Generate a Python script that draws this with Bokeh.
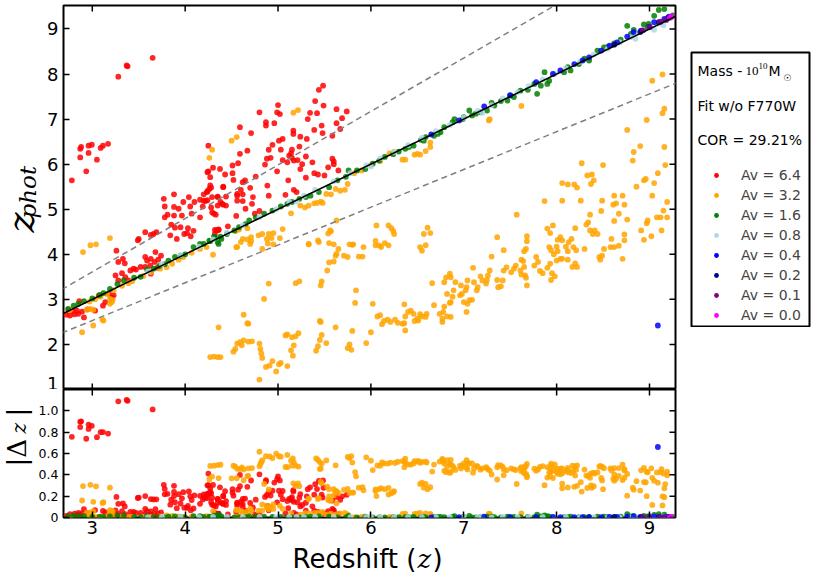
import numpy as np
from bokeh.plotting import figure
from bokeh.models import Range1d, FixedTicker, Label, Slope, Legend, LegendItem, ColumnDataSource
from bokeh.layouts import column, row
from bokeh.embed import file_html
from bokeh.resources import INLINE

# ---------------- data (z_spec, z_phot) ----------------
AV_LABELS = ["6.4", "3.2", "1.6", "0.8", "0.4", "0.2", "0.1", "0.0"]
COLORS = ["#ff0000", "#ffa500", "#008000", "#add8e6", "#0000ff", "#00008b", "#800080", "#ff00ff"]

X_LIM = (2.69, 9.28)
YTOP_LIM = (1.0, 9.52)
YBOT_LIM = (0.0, 1.2)
XTICKS = [3, 4, 5, 6, 7, 8, 9]
YTOP_TICKS = [1, 2, 3, 4, 5, 6, 7, 8, 9]
YBOT_TICKS = [0, 0.2, 0.4, 0.6, 0.8, 1.0]
ONE_TO_ONE = (1.0, 0.0)
DASH_HI = (1.187, 0.047)
DASH_LO = (0.838, 0.016)

AV64 = [
    (2.78, 5.64), (2.87, 6.34), (2.88, 6.38), (2.87, 6.15), (2.935, 5.84), (2.96, 6.41), (2.96, 6.25),
    (2.995, 6.43), (3.05, 6.10), (3.09, 6.36), (3.115, 6.41), (3.17, 6.45), (3.28, 7.94), (3.37, 8.19),
    (3.38, 8.17), (3.65, 8.36),
    (2.745, 2.77), (2.76, 2.64), (2.79, 2.74), (2.81, 2.67), (2.835, 2.75), (2.85, 2.68), (2.89, 2.73),
    (2.91, 2.60), (2.86, 2.96), (3.03, 2.75), (3.115, 2.86), (3.14, 2.94), (3.21, 3.04), (3.23, 3.09),
    (2.72, 2.66), (2.95, 2.78), (3.07, 3.08), (3.18, 3.12),
    (3.26, 4.08), (3.28, 3.83), (3.33, 3.90), (3.35, 3.80), (3.25, 3.53), (3.28, 3.42), (3.32, 3.58),
    (3.355, 3.49), (3.39, 3.42), (3.41, 3.64), (3.445, 3.68), (3.47, 3.66), (3.52, 3.72), (3.49, 4.31),
    (3.50, 4.34), (3.57, 4.49), (3.63, 4.43), (3.66, 4.45), (3.69, 4.49), (3.57, 3.94), (3.59, 3.86),
    (3.63, 3.90), (3.68, 4.05), (3.67, 3.83), (3.71, 3.88), (3.74, 3.97), (3.57, 3.72), (3.625, 3.75),
    (3.70, 3.70), (3.63, 3.57),
    (3.77, 5.23), (3.78, 5.06), (3.81, 4.88), (3.78, 4.82), (3.88, 5.33), (3.88, 5.05), (3.88, 4.86),
    (3.93, 5.01), (3.965, 4.86), (3.98, 5.16), (4.04, 5.27), (4.055, 5.06), (4.07, 4.90), (4.10, 5.16),
    (4.16, 5.21), (4.16, 4.82), (4.19, 5.06), (4.22, 5.18), (4.235, 5.38), (4.26, 5.45), (4.27, 5.53),
    (4.27, 5.71), (4.30, 5.92), (4.24, 5.82), (4.25, 6.41), (4.28, 5.04), (4.31, 4.90), (4.35, 5.27),
    (4.38, 5.16), (4.41, 5.49), (3.84, 4.42), (3.85, 4.66), (3.91, 4.34), (3.89, 4.59), (3.95, 4.60),
    (3.99, 4.45), (4.03, 4.58), (4.06, 4.40), (4.02, 4.47), (4.09, 4.52), (4.34, 4.53), (4.36, 4.55),
    (5.485, 7.74), (5.44, 7.65), (5.40, 7.40), (5.49, 7.30), (5.00, 7.31), (4.80, 7.15), (4.99, 7.15),
    (5.02, 7.11), (5.345, 7.14), (5.42, 7.13), (5.63, 7.22), (5.74, 7.17), (5.69, 7.02), (5.63, 6.91),
    (5.32, 7.00), (5.47, 6.855), (5.39, 6.76), (5.48, 6.69), (5.585, 6.63), (5.67, 6.78), (4.87, 6.93),
    (4.87, 6.855), (4.96, 6.91), (4.59, 6.82), (4.71, 6.69), (5.165, 6.745), (5.165, 6.67), (5.24, 6.61),
    (5.31, 6.56), (5.05, 6.56), (5.01, 6.52), (4.94, 6.43), (4.90, 6.32), (5.03, 6.32), (5.15, 6.32),
    (5.23, 6.39), (4.67, 6.30), (4.59, 6.23), (4.57, 6.02), (4.51, 5.97), (4.375, 5.895), (4.25, 5.84),
    (4.43, 5.77), (4.51, 5.80), (4.52, 5.65), (4.62, 5.60), (4.645, 5.64), (4.76, 5.725), (4.86, 5.99),
    (4.88, 6.12), (4.92, 6.14), (4.99, 5.84), (5.05, 6.09), (5.10, 6.04), (5.12, 6.19), (5.14, 6.24),
    (5.15, 6.14), (5.17, 6.08), (5.21, 6.09), (5.24, 5.89), (5.26, 6.00), (5.30, 6.17), (5.37, 6.04),
    (5.39, 5.80), (5.43, 5.77), (5.54, 5.93), (5.585, 6.12), (5.60, 6.06), (5.11, 5.64), (4.885, 5.525),
    (5.17, 5.43), (4.70, 5.475), (4.60, 5.43), (4.56, 5.34), (4.41, 5.50), (4.28, 5.48), (4.24, 5.40),
    (4.20, 5.33), (4.20, 5.19), (4.24, 5.20), (4.29, 5.27), (4.35, 5.28), (4.44, 5.28), (4.56, 5.30),
    (4.62, 5.33), (4.56, 5.19), (4.62, 5.18), (4.73, 5.27), (4.72, 5.12), (4.40, 5.12), (4.41, 5.10),
    (4.35, 5.08), (4.44, 5.08), (4.65, 5.01), (4.29, 4.93), (4.33, 4.88), (4.80, 4.96), (4.32, 4.54),
    (4.36, 4.54), (4.32, 4.45),
    (4.55, 4.85), (4.90, 5.30), (5.30, 5.70), (5.50, 5.75), (5.60, 6.00), (5.08, 5.32), (4.75, 4.90),
    (5.65, 5.86), (5.20, 5.38), (4.46, 4.62),
]

AV32 = [
    (2.90, 4.05), (2.98, 4.20), (3.04, 4.22), (3.19, 4.36), (4.29, 6.32), (4.26, 6.14), (4.50, 6.52),
    (4.555, 6.60), (5.165, 7.14), (5.215, 7.20),
    (2.89, 2.27), (3.01, 2.42), (3.12, 2.53), (3.11, 2.55),
    (2.76, 2.77), (2.94, 2.77), (2.98, 2.79), (3.01, 2.77), (3.19, 3.01), (3.22, 2.99), (3.19, 2.90),
    (3.21, 2.94),
    (2.97, 2.95), (3.03, 3.00), (3.09, 3.06), (3.16, 3.12), (3.23, 3.20), (3.32, 3.30), (3.39, 3.36),
    (3.43, 3.40), (3.55, 3.52), (3.63, 3.60), (3.73, 3.68), (3.80, 3.71), (3.86, 3.79), (3.93, 3.88),
    (3.98, 3.94), (4.07, 4.03), (4.16, 4.12), (4.23, 4.16), (4.30, 3.99),
    (4.544, 4.516), (4.58, 4.55), (4.67, 4.58), (4.79, 4.42), (4.83, 4.45), (4.90, 4.45), (4.95, 4.47),
    (5.05, 4.56), (4.60, 4.27), (4.55, 4.16), (4.71, 4.29), (4.70, 4.23), (4.83, 4.12), (4.89, 4.24),
    (5.02, 4.36), (5.14, 4.91), (5.24, 5.08), (5.29, 5.04), (5.33, 5.08), (5.39, 5.13), (5.42, 5.14),
    (5.46, 5.17), (5.48, 5.14), (5.52, 5.34), (5.57, 5.33), (5.62, 5.45), (5.67, 5.41), (5.72, 5.43),
    (5.75, 5.56), (5.82, 5.80), (5.90, 5.86), (6.00, 5.98), (6.10, 6.07), (6.20, 6.24), (6.25, 6.28),
    (5.33, 4.22), (5.44, 4.27), (5.55, 4.25), (5.63, 4.75), (5.57, 4.51), (5.77, 4.22), (5.81, 4.22),
    (6.05, 4.20), (6.09, 4.20), (6.06, 4.64), (5.91, 3.95), (5.63, 4.01), (5.60, 3.84), (5.53, 3.64),
    (5.47, 3.40), (5.46, 3.31), (5.23, 3.40), (5.19, 3.36), (4.90, 3.35), (4.85, 3.01), (4.63, 2.66),
    (4.68, 2.46), (4.36, 2.38), (5.84, 3.20), (5.83, 2.92), (6.02, 2.90), (5.45, 2.52),
    (4.27, 1.72), (4.31, 1.73), (4.35, 1.72), (4.38, 1.72), (4.52, 1.84), (4.54, 1.90), (4.56, 2.02),
    (4.59, 2.05), (4.61, 1.98), (4.63, 2.09), (4.68, 2.06), (4.72, 2.07), (4.67, 2.47), (4.80, 2.02),
    (4.81, 1.90), (4.82, 1.80), (4.83, 1.70), (4.80, 1.22), (4.87, 1.50), (4.91, 1.53), (4.94, 1.63),
    (4.98, 1.40), (5.01, 1.56), (5.03, 1.59), (5.10, 1.52), (5.08, 2.20), (5.10, 2.22), (5.15, 2.16),
    (5.17, 1.98), (5.19, 2.18), (5.22, 2.25), (5.14, 1.87), (5.16, 1.75), (5.41, 1.86), (5.43, 1.96),
    (5.45, 2.10), (5.47, 2.21), (5.46, 2.50), (5.52, 2.03), (5.62, 2.38), (5.75, 1.92), (5.77, 2.00),
    (5.79, 1.88), (5.80, 2.30), (5.95, 2.03), (6.00, 2.27), (6.07, 2.62), (6.10, 2.65), (6.12, 2.45),
    (6.14, 2.52), (6.18, 2.55), (6.21, 2.50), (6.26, 2.55), (6.29, 2.48),
    (4.56, 4.16), (4.62, 4.34), (4.67, 4.33), (4.71, 4.38), (4.88, 4.34), (4.93, 4.36), (4.95, 4.22),
    (5.33, 4.23), (5.43, 4.31), (5.54, 4.46), (5.56, 4.53), (5.60, 4.22), (5.65, 4.12), (5.80, 4.21),
    (5.92, 4.16), (6.05, 4.30), (6.11, 4.16), (6.15, 4.25), (6.19, 4.20), (6.25, 4.45), (6.19, 4.64),
    (6.22, 4.58), (6.24, 4.52), (5.55, 3.82), (5.62, 3.97), (5.71, 3.97), (5.75, 3.94), (5.87, 3.95),
    (7.28, 7.00), (7.27, 6.97), (7.62, 7.29), (6.47, 6.21), (6.50, 6.23), (6.53, 6.21), (6.59, 6.29),
    (6.64, 6.38), (6.64, 6.48), (6.37, 6.10), (6.34, 6.10),
    (9.03, 7.85), (9.14, 7.99), (9.14, 7.13), (9.16, 7.23), (8.97, 6.98), (8.76, 6.76), (8.90, 6.40),
    (8.83, 6.27), (8.82, 6.08), (9.16, 6.38), (9.17, 5.98), (8.50, 5.98), (8.27, 6.02), (9.09, 5.80),
    (9.05, 5.58), (8.96, 5.67), (8.94, 5.64), (8.86, 5.50), (9.03, 5.30), (9.19, 5.16), (9.15, 4.97),
    (9.19, 4.82), (9.08, 4.82), (9.12, 4.82), (8.98, 4.75), (8.97, 4.69), (8.91, 4.53), (9.13, 4.53),
    (9.02, 4.40), (8.94, 4.32), (8.71, 3.90), (8.62, 5.30), (8.71, 5.30), (8.73, 5.10), (8.64, 5.13),
    (8.61, 5.10), (8.67, 4.90), (8.76, 4.77), (8.62, 4.74), (8.73, 4.44), (8.73, 4.31), (8.59, 4.34),
    (8.62, 4.16), (8.67, 4.19), (8.58, 4.16), (8.51, 4.12), (8.49, 3.97), (8.47, 3.88), (8.46, 3.94),
    (8.36, 4.53), (8.39, 4.45), (8.44, 4.45), (8.41, 4.53), (8.32, 4.66), (8.34, 4.71), (8.36, 4.88),
    (8.20, 4.58), (8.30, 4.12), (8.49, 5.19), (8.48, 4.96), (8.40, 5.64), (8.37, 5.56), (8.33, 5.75),
    (8.38, 5.77), (8.19, 5.55), (8.22, 5.48), (8.12, 5.55), (8.06, 5.58), (8.06, 5.19), (8.26, 5.19),
    (7.87, 5.18), (7.96, 4.64), (7.90, 4.57), (8.01, 4.32), (8.00, 4.17), (7.93, 4.47), (8.04, 4.38),
    (8.06, 4.31), (8.10, 4.17), (8.13, 4.27), (8.16, 4.34), (8.18, 4.16), (8.21, 4.09), (8.12, 4.07),
    (8.01, 4.07), (8.04, 3.90), (8.06, 3.90), (8.12, 3.88), (8.20, 3.80), (8.22, 3.72), (8.17, 3.72),
    (7.92, 4.16), (7.94, 4.09), (7.97, 4.00), (8.00, 3.86), (7.93, 3.79), (7.90, 3.70), (7.95, 3.58),
    (7.98, 3.51), (7.94, 3.43), (7.80, 3.83), (7.78, 3.94), (7.76, 3.75), (7.82, 3.63), (7.85, 3.58),
    (7.68, 4.40), (7.68, 4.29), (7.57, 4.88), (7.43, 4.09), (7.36, 4.38), (7.30, 3.95), (7.65, 4.07),
    (7.67, 4.12), (7.62, 3.88), (7.64, 3.85), (7.65, 3.72), (7.61, 3.64), (7.62, 3.55), (7.66, 3.53),
    (7.67, 3.48), (7.68, 3.31), (7.56, 3.75), (7.54, 3.68), (7.51, 3.60), (7.46, 3.71), (7.43, 3.64),
    (7.42, 3.42), (7.40, 3.29), (7.37, 3.27), (7.36, 3.43), (7.28, 3.64), (7.26, 3.53), (7.25, 3.43),
    (7.24, 3.35), (7.20, 3.42), (7.18, 3.51), (7.15, 3.27), (7.14, 3.20), (7.11, 3.38), (7.10, 3.70),
    (7.04, 3.42), (7.03, 3.27), (7.02, 3.20), (6.98, 3.12), (6.96, 3.09), (6.97, 3.31), (6.91, 3.38),
    (6.85, 3.57), (6.86, 3.49), (6.81, 3.49), (6.79, 3.38), (6.82, 3.12), (7.00, 2.94), (7.04, 2.90),
    (7.06, 2.98), (7.09, 2.99), (7.03, 2.72), (6.85, 2.92), (6.86, 2.94), (6.88, 3.06), (6.89, 3.20),
    (6.79, 2.84), (6.78, 2.72), (6.86, 2.61), (6.82, 2.62), (6.77, 2.57), (6.77, 2.50), (6.74, 2.68),
    (6.68, 2.87), (6.60, 2.68), (6.59, 2.61), (6.55, 2.62), (6.53, 2.67), (6.51, 2.53), (6.50, 2.57),
    (6.47, 2.52), (6.46, 2.68), (6.43, 2.75), (6.40, 2.72), (6.37, 2.62), (6.36, 2.47), (6.37, 2.31),
    (6.34, 2.46), (6.66, 3.36), (6.59, 4.20), (6.64, 4.47), (6.61, 4.59), (6.57, 4.45), (6.53, 4.16),
    (6.55, 4.08), (6.36, 2.89),
]

AV16 = [
    (2.74, 2.79), (2.80, 2.86), (2.85, 2.90), (2.91, 2.96), (3.00, 3.02), (3.08, 3.10), (3.12, 3.14),
    (3.19, 3.23), (3.27, 3.34), (3.34, 3.42), (3.45, 3.48), (3.52, 3.50), (3.59, 3.66), (3.66, 3.68),
    (3.72, 3.74), (3.78, 3.78), (3.82, 3.86), (3.89, 3.94), (3.95, 3.97), (4.00, 4.00), (4.09, 4.16),
    (4.16, 4.23), (4.20, 4.23), (4.26, 4.30), (4.27, 4.29), (4.31, 4.39), (4.32, 4.38), (4.35, 4.27),
    (4.36, 4.23), (4.38, 4.39), (4.39, 4.34), (4.45, 4.45), (4.53, 4.53), (4.58, 4.60), (4.65, 4.67),
    (4.69, 4.75), (4.76, 4.82), (4.85, 4.90), (4.94, 4.97), (5.03, 5.06), (5.10, 5.12), (5.15, 5.16),
    (5.23, 5.23), (5.30, 5.27), (5.35, 5.30), (5.44, 5.38), (5.55, 5.49), (5.64, 5.64), (5.73, 5.72),
    (5.76, 5.86), (5.85, 5.86), (5.94, 5.89), (6.02, 6.01), (6.09, 6.08), (6.15, 6.16), (6.24, 6.22),
    (6.30, 6.28), (6.37, 6.34), (6.41, 6.38), (6.46, 6.41), (6.54, 6.54), (6.57, 6.52), (6.59, 6.60),
    (6.68, 6.63), (6.72, 6.67), (6.75, 6.71), (6.79, 6.82), (6.88, 6.93), (6.90, 7.00), (6.99, 7.00),
    (7.00, 7.04), (7.06, 7.19), (7.09, 7.08), (7.13, 7.12), (7.18, 7.15), (7.25, 7.19), (7.30, 7.36),
    (7.33, 7.30), (7.40, 7.40), (7.47, 7.41), (7.50, 7.52), (7.54, 7.49), (7.61, 7.63), (7.69, 7.65),
    (7.76, 7.78), (7.79, 7.56), (7.83, 7.74), (7.87, 8.04), (7.90, 7.78), (7.92, 7.85), (8.08, 8.04),
    (8.12, 8.15), (8.15, 8.08), (8.24, 8.22), (8.30, 8.34), (8.35, 8.30), (8.44, 8.52), (8.51, 8.59),
    (8.55, 8.60), (8.62, 8.68), (8.69, 8.76), (8.76, 9.07), (8.80, 8.89), (8.83, 8.98), (8.94, 9.10),
    (8.98, 9.04), (8.99, 9.11), (9.05, 9.29), (9.10, 9.42), (9.16, 9.44), (9.20, 9.25), (9.25, 9.30),
]

AV08 = [
    (3.60, 3.62), (3.75, 3.78), (3.95, 3.98), (4.15, 4.17), (4.30, 4.33), (4.45, 4.48), (4.62, 4.64),
    (4.80, 4.83), (4.98, 5.00), (5.12, 5.16), (5.20, 5.17), (5.28, 5.30), (5.40, 5.43), (5.60, 5.62),
    (5.78, 5.80), (5.95, 5.97), (6.00, 5.95), (6.10, 6.13), (6.25, 6.27), (6.40, 6.42), (6.55, 6.58),
    (6.70, 6.73), (6.85, 6.87), (7.00, 7.03), (7.15, 7.18), (7.20, 7.14), (7.30, 7.31), (7.42, 7.46),
    (7.58, 7.60), (7.70, 7.73), (7.85, 7.88), (7.98, 8.00), (8.10, 8.13), (8.25, 8.27), (8.40, 8.43),
    (8.55, 8.56), (8.68, 8.70), (8.80, 8.82), (8.85, 8.78), (8.90, 8.95), (9.00, 9.03), (9.05, 8.98),
    (9.10, 9.12), (9.15, 9.08), (9.18, 9.20), (9.22, 9.24),
]

AV04 = [
    (6.65, 6.66), (6.95, 6.97), (7.22, 7.28), (7.50, 7.53), (7.78, 7.82), (7.96, 8.00), (8.04, 8.08),
    (8.19, 8.22), (8.28, 8.30), (8.35, 8.37), (8.48, 8.52), (8.57, 8.63), (8.65, 8.70), (8.76, 8.83),
    (8.83, 8.93), (8.91, 8.96), (9.00, 9.05), (9.05, 9.15), (9.16, 9.22), (9.21, 9.27), (9.09, 2.42),
]

AV02 = [(8.62, 8.65), (8.90, 8.93), (9.10, 9.15), (9.20, 9.24)]
AV01 = [(8.93, 8.97), (9.00, 9.04), (9.12, 9.16), (9.18, 9.20)]
AV00 = [(9.22, 9.25), (9.24, 9.27)]

SERIES = [AV64, AV32, AV16, AV08, AV04, AV02, AV01, AV00]

# ---------------- helpers ----------------
FONT = "DejaVu Sans"
SERIF = "DejaVu Serif"
TICK_LEN = 6


def style_axis(ax, ticks, size, standoff):
    ax.ticker = FixedTicker(ticks=ticks)
    ax.major_tick_in = TICK_LEN
    ax.major_tick_out = 0
    ax.major_tick_line_width = 1.5
    ax.major_tick_line_color = "black"
    ax.minor_tick_line_color = None
    ax.axis_line_color = None
    ax.major_label_text_font = FONT
    ax.major_label_text_font_size = size
    ax.major_label_text_color = "black"
    ax.major_label_standoff = standoff


def edge_ticks(p, xs, y, ang):
    # inward tick marks on an edge without labels, placed at the tick values
    p.ray(x=xs, y=[y] * len(xs), length=TICK_LEN, length_units="screen", angle=ang,
          line_color="black", line_width=1.5)


def blank(width, height):
    f = figure(width=width, height=height, x_range=Range1d(0, 1), y_range=Range1d(0, 1),
               output_backend="svg", toolbar_location=None, x_axis_location=None, y_axis_location=None,
               min_border_left=0, min_border_right=0, min_border_top=0, min_border_bottom=0)
    f.grid.visible = False
    f.outline_line_color = None
    return f


def add_text(f, x, y, t, font=FONT, size="14px", style="normal", angle=0.0):
    f.add_layout(Label(x=x, y=y, x_units="screen", y_units="screen", text=t, text_font=font,
                       text_font_size=size, text_font_style=style, angle=angle,
                       text_baseline="middle", text_align="left", text_color="black"))


# ---------------- main panels ----------------
xr = Range1d(*X_LIM)
top = figure(frame_width=612, frame_height=384, x_range=xr, y_range=Range1d(*YTOP_LIM),
             output_backend="svg", toolbar_location=None, x_axis_location=None,
             min_border_left=21, min_border_right=5, min_border_top=5, min_border_bottom=0)
bot = figure(frame_width=612, frame_height=128, x_range=xr, y_range=Range1d(*YBOT_LIM),
             output_backend="svg", toolbar_location=None,
             min_border_left=30, min_border_right=5, min_border_top=0, min_border_bottom=24)

for p in (top, bot):
    p.grid.visible = False
    p.outline_line_color = "black"
    p.outline_line_width = 2

style_axis(top.yaxis[0], YTOP_TICKS, "18px", 5)
style_axis(bot.yaxis[0], YBOT_TICKS, "12.5px", 5)
bot.yaxis[0].major_label_overrides = {0: "0", 1: "1.0"}
style_axis(bot.xaxis[0], XTICKS, "18px", 3)

sources = []
for pts, col in zip(SERIES, COLORS):
    a = np.array(pts, dtype=float)
    z, zp = a[:, 0], a[:, 1]
    dz = np.abs(zp - z) / (1.0 + z)
    src = ColumnDataSource(dict(z=z, zp=zp, dz=dz))
    sources.append(src)
    top.scatter("z", "zp", source=src, size=5.8, fill_color=col, fill_alpha=0.85, line_color=None)
    bot.scatter("z", "dz", source=src, size=5.8, fill_color=col, fill_alpha=0.85, line_color=None)

# inward ticks on the unlabeled edges
edge_ticks(top, XTICKS, YTOP_LIM[0], np.pi / 2)
edge_ticks(top, XTICKS, YTOP_LIM[1], -np.pi / 2)
top.ray(x=[X_LIM[1]] * len(YTOP_TICKS), y=YTOP_TICKS, length=TICK_LEN, length_units="screen",
        angle=np.pi, line_color="black", line_width=1.5)
edge_ticks(bot, XTICKS, YBOT_LIM[1], -np.pi / 2)
bot.ray(x=[X_LIM[1]] * len(YBOT_TICKS), y=YBOT_TICKS, length=TICK_LEN, length_units="screen",
        angle=np.pi, line_color="black", line_width=1.5)

top.add_layout(Slope(gradient=ONE_TO_ONE[0], y_intercept=ONE_TO_ONE[1], line_color="black", line_width=1.5))
for g, b in (DASH_HI, DASH_LO):
    top.add_layout(Slope(gradient=g, y_intercept=b, line_color="gray", line_width=1.5, line_dash="6 4"))

# ---------------- axis-title strips ----------------
ylab_top = blank(42, 389)
add_text(ylab_top, 20, 157, "z", SERIF, "38px", "italic", np.pi / 2)
add_text(ylab_top, 27, 171, "phot", SERIF, "23px", "italic", np.pi / 2)

ylab_bot = blank(33, 152)
add_text(ylab_bot, 16, 51, "|Δ", SERIF, "26px", "normal", np.pi / 2)
add_text(ylab_bot, 18, 84, "z", SERIF, "20px", "italic", np.pi / 2)
add_text(ylab_bot, 16, 101, "|", SERIF, "26px", "normal", np.pi / 2)

xlab = blank(680, 36)
add_text(xlab, 292, 19, "Redshift (", FONT, "26px")
add_text(xlab, 417, 19, "z", SERIF, "26px", "italic")
add_text(xlab, 432, 19, ")", FONT, "26px")

# ---------------- legend box ----------------
leg = figure(frame_width=118, frame_height=275, x_range=Range1d(0, 1), y_range=Range1d(0, 1),
             output_backend="svg", toolbar_location=None, x_axis_location=None, y_axis_location=None,
             min_border_left=11, min_border_right=4, min_border_top=52, min_border_bottom=0)
leg.grid.visible = False
leg.outline_line_color = "black"
leg.outline_line_width = 2

items = []
for lab, col, src in zip(AV_LABELS, COLORS, sources):
    # same data, far outside this box's range: only the legend swatch shows
    r = leg.scatter("z", "zp", source=src, size=5, fill_color=col, line_color=None)
    items.append(LegendItem(label="Av = " + lab, renderers=[r]))
legend = Legend(items=items, location=(19, 2), glyph_width=12, glyph_height=12, label_height=20,
                label_standoff=19, spacing=0, padding=0, margin=0, border_line_color=None,
                background_fill_alpha=0, label_text_font=FONT, label_text_font_size="14px",
                label_text_baseline="middle")
leg.add_layout(legend)

add_text(leg, 6, 257, "Mass -")
add_text(leg, 54, 257, "10", "Liberation Serif", "13px")
add_text(leg, 67, 262, "10", "Liberation Serif", "9px")
add_text(leg, 77, 257, "M")
add_text(leg, 92, 250, "☉", FONT, "9px")
add_text(leg, 6, 222, "Fit w/o F770W")
add_text(leg, 6, 188, "COR = 29.21%")

layout = row(column(row(ylab_top, top), row(ylab_bot, bot), xlab), leg)
open("out.html", "w").write(file_html(layout, INLINE))
